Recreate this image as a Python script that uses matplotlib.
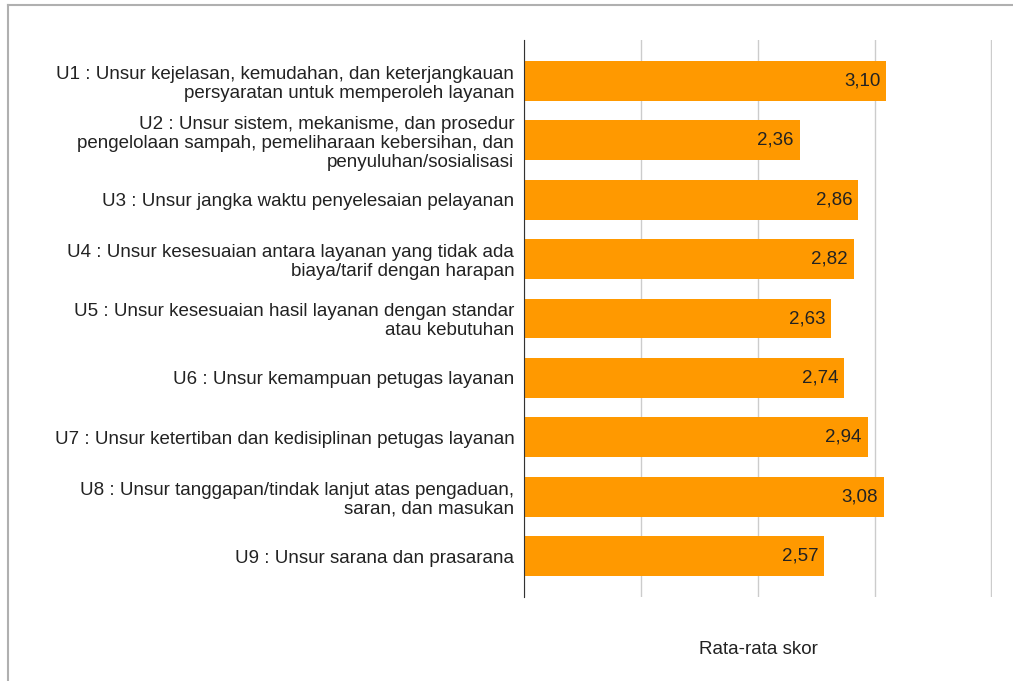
import matplotlib.pyplot as plt
from matplotlib.lines import Line2D

plt.rcParams['font.family'] = ['Liberation Sans', 'DejaVu Sans']

labels = [
    "U1 : Unsur kejelasan, kemudahan, dan keterjangkauan\npersyaratan untuk memperoleh layanan",
    "U2 : Unsur sistem, mekanisme, dan prosedur\npengelolaan sampah, pemeliharaan kebersihan, dan\npenyuluhan/sosialisasi",
    "U3 : Unsur jangka waktu penyelesaian pelayanan",
    "U4 : Unsur kesesuaian antara layanan yang tidak ada\nbiaya/tarif dengan harapan",
    "U5 : Unsur kesesuaian hasil layanan dengan standar\natau kebutuhan",
    "U6 : Unsur kemampuan petugas layanan",
    "U7 : Unsur ketertiban dan kedisiplinan petugas layanan",
    "U8 : Unsur tanggapan/tindak lanjut atas pengaduan,\nsaran, dan masukan",
    "U9 : Unsur sarana dan prasarana",
]
scores = [3.10, 2.36, 2.86, 2.82, 2.63, 2.74, 2.94, 3.08, 2.57]
xticks = [0, 1, 2, 3, 4]

fig = plt.figure(figsize=(10.13, 6.81), dpi=100)
ax = fig.add_axes([524 / 1013, 1 - 597 / 681, 468 / 1013, 557 / 681])

y = list(range(len(labels)))
ax.barh(y, scores, height=0.67, color='#ff9900', zorder=3)
for yi, v in zip(y, scores):
    ax.text(v - 0.05, yi, f"{v:.2f}".replace('.', ','), ha='right', va='center',
            fontsize=13.5, color='#222222', zorder=4)

ax.set_xlim(0, 4.005)
ax.set_ylim(8.69, -0.69)
ax.set_xticks(xticks)
ax.set_xticklabels([])
ax.tick_params(axis='x', length=0)
ax.grid(axis='x', color='#cccccc', linewidth=1, zorder=0)
ax.set_yticks(y)
ax.set_yticklabels(labels, fontsize=13.5, color='#222222', linespacing=1.15)
ax.tick_params(axis='y', length=0, pad=7)
for s in ['top', 'right', 'bottom']:
    ax.spines[s].set_visible(False)
ax.spines['left'].set_color('#333333')
ax.spines['left'].set_zorder(5)

fig.text(758 / 1013, 1 - 650 / 681, "Rata-rata skor", ha='center', va='center',
         fontsize=13.5, color='#222222')

# outer frame
fig.add_artist(Line2D([8 / 1013, 1], [1 - 5 / 681, 1 - 5 / 681], color='#b0b0b0', linewidth=1.5))
fig.add_artist(Line2D([8 / 1013, 8 / 1013], [0, 1 - 5 / 681], color='#b0b0b0', linewidth=1.5))

fig.savefig('out.png', dpi=100)
